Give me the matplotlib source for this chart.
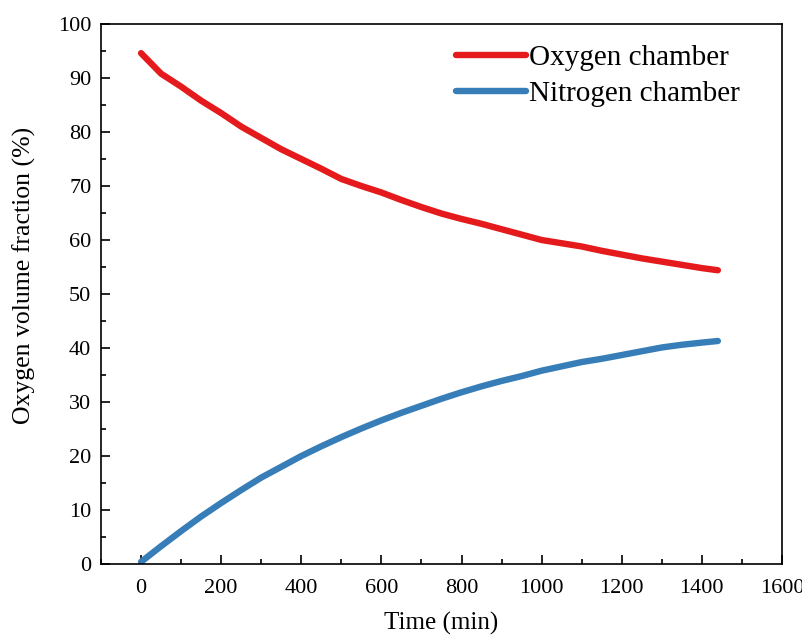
import matplotlib.pyplot as plt
from matplotlib.ticker import MultipleLocator

# Oxygen volume fraction measured in the two chambers
time_min = [0, 50, 100, 150, 200, 250, 300, 350, 400, 450, 500, 550, 600,
            650, 700, 750, 800, 850, 900, 950, 1000, 1050, 1100, 1150, 1200,
            1250, 1300, 1350, 1400, 1440]
oxygen_chamber = [94.6, 90.8, 88.4, 85.8, 83.5, 81.0, 78.9, 76.8, 75.0, 73.2,
                  71.3, 70.0, 68.8, 67.4, 66.1, 64.9, 63.9, 63.0, 62.0, 61.0,
                  60.0, 59.4, 58.8, 58.0, 57.3, 56.6, 56.0, 55.4, 54.8, 54.4]
nitrogen_chamber = [0.4, 3.3, 6.1, 8.8, 11.3, 13.7, 16.0, 18.0, 20.0, 21.8,
                    23.5, 25.1, 26.6, 28.0, 29.3, 30.6, 31.8, 32.9, 33.9, 34.8,
                    35.8, 36.6, 37.4, 38.0, 38.7, 39.4, 40.1, 40.6, 41.0, 41.3]

plt.rcParams['font.family'] = ['Liberation Serif', 'DejaVu Serif']

fig = plt.figure(figsize=(8.03, 6.35), dpi=100)
ax = fig.add_axes([0.1258, 0.1118, 0.848, 0.8504])

ax.plot(time_min, oxygen_chamber, color='#E41A1C', lw=4.6,
        solid_capstyle='round', solid_joinstyle='round', label='Oxygen chamber')
ax.plot(time_min, nitrogen_chamber, color='#377EB8', lw=4.6,
        solid_capstyle='round', solid_joinstyle='round', label='Nitrogen chamber')

ax.set_xlim(-100, 1600)
ax.set_ylim(0, 100)
ax.xaxis.set_major_locator(MultipleLocator(200))
ax.xaxis.set_minor_locator(MultipleLocator(100))
ax.yaxis.set_major_locator(MultipleLocator(10))
ax.yaxis.set_minor_locator(MultipleLocator(5))

for s in ax.spines.values():
    s.set_linewidth(1.2)
ax.tick_params(which='both', direction='in', width=1.2, labelsize=16,
               top=False, right=False)
ax.tick_params(which='major', length=6.5)
ax.tick_params(which='minor', length=3.5)
ax.tick_params(axis='x', pad=11)
ax.tick_params(axis='y', pad=7)

ax.set_xlabel('Time (min)', fontsize=18, labelpad=10)
ax.set_ylabel('Oxygen volume fraction (%)', fontsize=18.5, labelpad=16,
              y=0.535)

ax.legend(loc='upper right', bbox_to_anchor=(0.968, 1.0), frameon=False,
          fontsize=21, handlelength=2.4, handletextpad=0.1, labelspacing=0.34,
          borderaxespad=0.3)

fig.savefig('out.png', dpi=100)
